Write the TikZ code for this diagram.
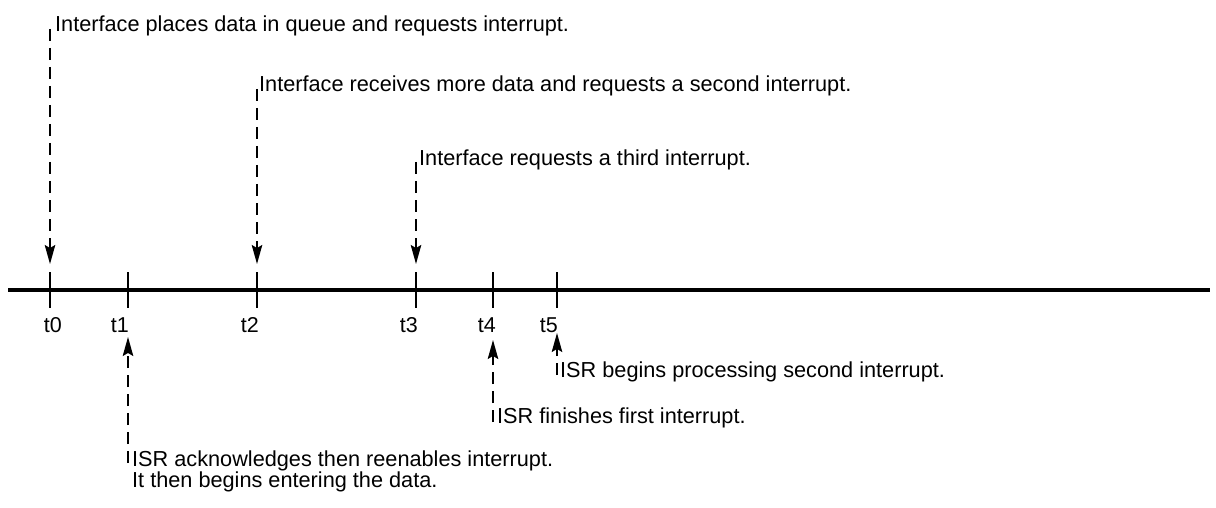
\documentclass[tikz,border=0pt]{standalone}
\usepackage{fontspec}
\setmainfont{Liberation Sans}
\usetikzlibrary{arrows.meta,calc}
\begin{document}
\begin{tikzpicture}[x=1pt,y=-1pt,
  txt/.style={anchor=base west,inner sep=0pt,font=\fontsize{21.7}{20.5}\selectfont},
  lbl/.style={anchor=base east,inner sep=0pt,font=\fontsize{21.5}{24}\selectfont},
  conn/.style={line width=1.6pt,dash pattern=on 12pt off 7pt,-{Stealth[length=19pt,width=10.5pt,inset=3pt]}},
  tickmark/.style={line width=2.5pt},
  axis/.style={line width=3.8pt}]
\useasboundingbox (0,0) rectangle (1216,508);
% timeline
\coordinate (L) at (8,290);
\coordinate (R) at (1210,290);
\draw[axis] (L) -- (R);
% ticks
\foreach \n/\x in {0/50,1/128,2/257,3/416,4/493,5/557}{
  \coordinate (t\n) at (\x,290);
  \draw[tickmark] ($(t\n)+(0,-18)$) -- ($(t\n)+(0,18)$);
}
% tick labels
\node[lbl] (l0) at (62,332) {t0};
\node[lbl] (l1) at (129,332) {t1};
\node[lbl] (l2) at (259,332) {t2};
\node[lbl] (l3) at (418,332) {t3};
\node[lbl] (l4) at (496,332) {t4};
\node[lbl] (l5) at (558,332) {t5};
% top texts
\node[txt] (a0) at (55,32) {Interface places data in queue and requests interrupt.};
\node[txt] (a2) at (259,92) {Interface receives more data and requests a second interrupt.};
\node[txt] (a3) at (419,165) {Interface requests a third interrupt.};
% bottom texts
\node[txt,align=left] (b1) at (132,487) {ISR acknowledges then reenables interrupt.\\It then begins entering the data.};
\node[txt] (b4) at (497,423) {ISR finishes first interrupt.};
\node[txt] (b5) at (560,377) {ISR begins processing second interrupt.};
% connectors
\draw[conn] ($(t0 |- a0.base)+(0,-3)$) -- ($(t0)+(0,-26)$);
\draw[conn] ($(t2 |- a2.base)+(0,-3)$) -- ($(t2)+(0,-26)$);
\draw[conn] ($(t3 |- a3.base)+(0,-3)$) -- ($(t3)+(0,-26)$);
\draw[conn] ($(t1)+(0,173)$) -- ($(t1)+(0,47)$);
\draw[conn] ($(t4)+(0,132)$) -- ($(t4)+(0,50)$);
\draw[conn] ($(t5)+(0,85)$) -- ($(t5)+(0,43)$);
\end{tikzpicture}
\end{document}
